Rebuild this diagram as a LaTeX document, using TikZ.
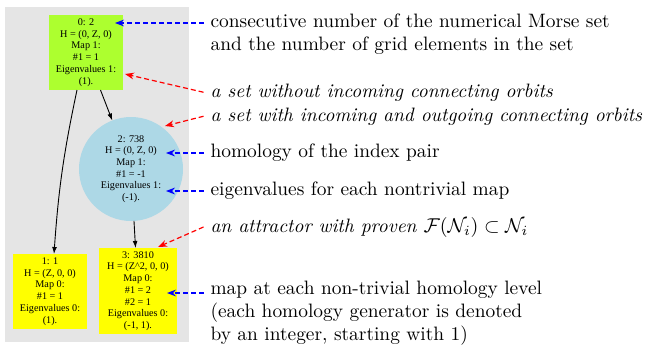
\documentclass[tikz,border=0pt]{standalone}
\usepackage{fontspec}
\newfontfamily\gvfont{Liberation Serif}
\usetikzlibrary{arrows.meta}
\definecolor{setgreen}{HTML}{ADFF2F}
\definecolor{setblue}{HTML}{ADD8E6}
\definecolor{setyellow}{HTML}{FFFF00}
\tikzset{
  morse/.style={font=\gvfont\fontsize{5.1}{5.85}\selectfont,align=center,
    inner xsep=3.5pt,inner ysep=1pt,outer sep=0pt,minimum width=37pt,minimum height=37.5pt},
  conn/.style={-{Latex[length=3.5pt,width=2.4pt]},line width=.45pt},
  note/.style={font=\fontsize{9.7}{11.5}\selectfont,anchor=base west,align=left},
  notei/.style={note,font=\fontsize{9.7}{11.5}\selectfont\itshape},
  hint/.style={-{Stealth[length=4.5pt,width=3.4pt]},dash pattern=on 2.5pt off 1.5pt,line width=.6pt}
}
\begin{document}
\begin{tikzpicture}[x=.5pt,y=-.5pt]
\useasboundingbox (0,0) rectangle (646,348);
\fill[black!10] (5,7) rectangle (189,342);
% Morse sets
\node[morse,fill=setgreen] (n0) at (86,52.5) {0: 2\\H = (0, Z, 0)\\Map 1:\\\#1 = 1\\Eigenvalues 1:\\(1).};
\node[morse,fill=setblue,circle,minimum size=52pt,inner sep=1pt] (n2) at (131,169) {2: 738\\H = (0, Z, 0)\\Map 1:\\\#1 = -1\\Eigenvalues 1:\\(-1).};
\node[morse,fill=setyellow] (n1) at (50,291.5) {1: 1\\H = (Z, 0, 0)\\Map 0:\\\#1 = 1\\Eigenvalues 0:\\(1).};
\node[morse,fill=setyellow,minimum width=39pt,minimum height=43pt] (n3) at (138,291) {3: 3810\\H = (Z\textasciicircum 2, 0, 0)\\Map 0:\\\#1 = 2\\\#2 = 1\\Eigenvalues 0:\\(-1, 1).};
\draw[conn] ([xshift=-4.5pt]n0.south) to[bend right=4] ([xshift=2pt]n1.north);
\draw[conn] (n0) -- (n2);
\draw[conn] (n2) -- (n3);
% explanations (multi-line: base = last line)
\node[note] (t1) at (203.5,50) {consecutive number of the numerical Morse set\\and the number of grid elements in the set};
\node[notei] (t2) at (203.5,97) {a set without incoming connecting orbits};
\node[notei] (t3) at (203.5,121) {a set with incoming and outgoing connecting orbits};
\node[note] (t4) at (203.5,157) {homology of the index pair};
\node[note] (t5) at (203.5,195) {eigenvalues for each nontrivial map};
\node[notei] (t6) at (203.5,232) {an attractor with proven $\mathcal{F}(\mathcal{N}_i)\subset\mathcal{N}_i$};
\node[note] (t7) at (203.5,340) {map at each non-trivial homology level\\(each homology generator is denoted\\by an integer, starting with 1)};
\coordinate (c1) at (115,23);
\coordinate (c2) at (125,74);
\coordinate (c3) at (165,126);
\coordinate (c4) at (166,153);
\coordinate (c5) at (166,191);
\coordinate (c6) at (158,247);
\coordinate (c7) at (167,293);
\draw[hint,blue] (t1.west |- c1) -- (c1);
\draw[hint,red] (t2.west) -- (c2);
\draw[hint,red] (t3.west) -- (c3);
\draw[hint,blue] (t4.west |- c4) -- (c4);
\draw[hint,blue] (t5.west |- c5) -- (c5);
\draw[hint,red] (t6.west) -- (c6);
\draw[hint,blue] (t7.west |- c7) -- (c7);
\end{tikzpicture}
\end{document}
